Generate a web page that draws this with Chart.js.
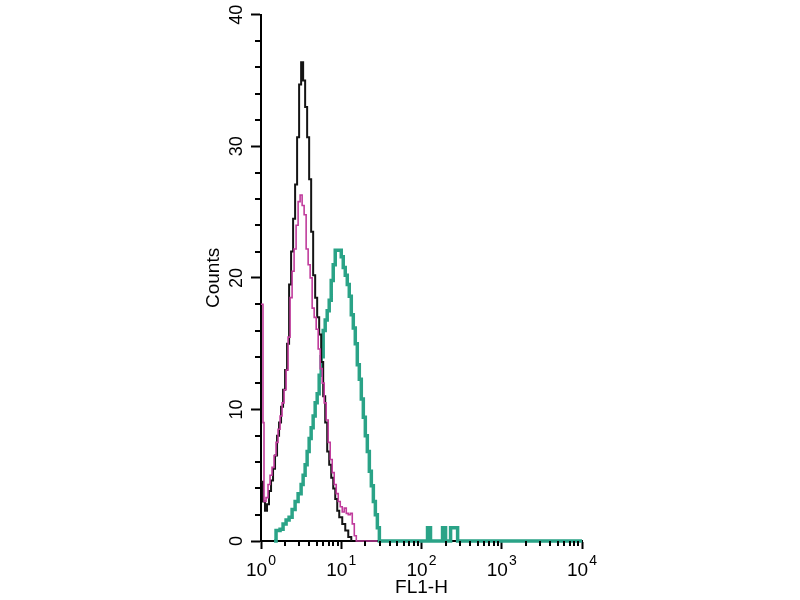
<!DOCTYPE html>
<html>
<head>
<meta charset="utf-8">
<script src="https://cdn.jsdelivr.net/npm/chart.js@4/dist/chart.umd.min.js"></script>
<style>
  html, body { margin: 0; padding: 0; background: #ffffff; }
  #wrap { width: 800px; height: 600px; position: relative; }
</style>
</head>
<body>
<div id="wrap"><canvas id="c" width="800" height="600"></canvas></div>
<script>
// ---- Data (FL1-H value, counts) ----
const blackFL = [1.000, 1.059, 1.122, 1.189, 1.259, 1.334, 1.413, 1.496, 1.585, 1.679, 1.778, 1.884, 1.995, 2.113, 2.239, 2.371, 2.512, 2.661, 2.818, 2.985, 3.162, 3.350, 3.548, 3.758, 3.981, 4.217, 4.467, 4.732, 5.012, 5.309, 5.623, 5.957, 6.310, 6.683, 7.079, 7.499, 7.943, 8.414, 8.913, 9.441, 10.29, 11.22, 12.23, 13.34];
const blackCounts = [4.5, 3, 2.3, 2.8, 3.8, 4.6, 5.5, 6.5, 8, 9, 10.2, 11.5, 13, 15, 19.5, 22, 24.5, 27.1, 30.7, 34.7, 36.4, 35, 33, 30.7, 27.5, 23.5, 20.2, 18.5, 17, 15.7, 13.6, 11, 9, 6.8, 5.8, 4.8, 4, 3.2, 2.3, 1.8, 1.3, 0.8, 0.3, 0];

const magentaFL = [1.000, 1.059, 1.090, 1.155, 1.223, 1.296, 1.372, 1.454, 1.540, 1.631, 1.728, 1.830, 1.939, 2.054, 2.175, 2.304, 2.441, 2.585, 2.738, 2.901, 3.073, 3.255, 3.447, 3.652, 3.868, 4.097, 4.340, 4.597, 4.870, 5.158, 5.464, 5.788, 6.131, 6.494, 6.879, 7.286, 7.718, 8.175, 8.660, 9.173, 9.716, 10.29, 10.90, 11.55, 12.23, 12.96, 13.72, 14.54, 15.40, 28.18];
const magentaCounts = [18, 9, 3, 3.3, 4.3, 5, 5.6, 6.5, 7.5, 8.5, 9.5, 10.5, 11.5, 13, 15.5, 18.5, 20.5, 22.2, 24, 25.8, 26.3, 25.5, 24.8, 22.2, 21, 20, 17.7, 17, 16.1, 14.6, 13.1, 12, 10.5, 9.2, 7.5, 6.2, 5.2, 4.3, 3.6, 3, 2.6, 2.2, 2.5, 2.1, 2, 2.1, 1.3, 0.4, 0, 0];

const tealFL = [1.454, 1.540, 1.728, 1.884, 2.054, 2.239, 2.441, 2.661, 2.901, 3.162, 3.350, 3.548, 3.758, 3.981, 4.217, 4.467, 4.732, 5.012, 5.309, 5.623, 5.957, 6.310, 6.683, 7.079, 7.499, 7.943, 8.414, 8.913, 9.441, 10.00, 10.59, 11.22, 11.89, 12.59, 13.34, 14.13, 14.96, 15.85, 16.79, 17.78, 18.84, 19.95, 21.13, 22.39, 23.71, 25.12, 26.61, 28.18, 29.85, 118.9, 129.5, 183.0, 199.5, 230.4, 281.8, 10000];
const tealCounts = [0, 0.8, 0.9, 1.3, 1.6, 1.8, 2.4, 3, 3.6, 4.3, 5, 5.8, 6.8, 7.8, 8.6, 9.5, 10.5, 11.2, 12.6, 14, 16, 16.8, 17.5, 18.3, 19.8, 21, 22.1, 22.1, 22.1, 21.6, 20.8, 20.2, 19.5, 18.6, 17.2, 16.2, 15, 13.4, 12.3, 10.8, 9.4, 8, 6.8, 5.3, 4.2, 3, 2, 1, 0, 1, 0, 1, 0, 1, 0, 0];

// ---- Axis ticks and labels ----
const xMajorTicks = [1, 10, 100, 1000, 10000];
const xTickExponents = ['0', '1', '2', '3', '4'];
const xMinorTicks = [2, 3, 4, 5, 6, 7, 8, 9, 20, 30, 40, 50, 60, 70, 80, 90, 200, 300, 400, 500, 600, 700, 800, 900, 2000, 3000, 4000, 5000, 6000, 7000, 8000, 9000];
const yMajorTicks = [0, 10, 20, 30, 40];
const yMinorTicks = [2, 4, 6, 8, 12, 14, 16, 18, 22, 24, 26, 28, 32, 34, 36, 38];
const xTitle = 'FL1-H';
const yTitle = 'Counts';

function zip(xs, ys) { return xs.map((x, i) => ({ x: x, y: ys[i] })); }

const FONT = '"Liberation Sans", Arial, sans-serif';

const extrasPlugin = {
  id: 'extras',
  afterDraw(chart) {
    const ctx = chart.ctx;
    const xs = chart.scales.x, ys = chart.scales.y;
    const base = chart.chartArea.bottom;
    const left = chart.chartArea.left;
    ctx.save();
    ctx.strokeStyle = '#000';
    ctx.lineWidth = 2;
    xMinorTicks.forEach(v => {
      const px = Math.round(xs.getPixelForValue(v));
      ctx.beginPath(); ctx.moveTo(px, base); ctx.lineTo(px, base + 5); ctx.stroke();
    });
    yMinorTicks.forEach(v => {
      const py = Math.round(ys.getPixelForValue(v));
      ctx.beginPath(); ctx.moveTo(left, py); ctx.lineTo(left - 6, py); ctx.stroke();
    });
    ctx.fillStyle = '#000';
    ctx.textBaseline = 'alphabetic';
    ctx.textAlign = 'left';
    xMajorTicks.forEach((v, i) => {
      const px = xs.getPixelForValue(v);
      ctx.font = '19px ' + FONT;
      const w1 = ctx.measureText('10').width;
      ctx.font = '14px ' + FONT;
      const w2 = ctx.measureText(xTickExponents[i]).width;
      const start = px - (w1 + w2 + 1) / 2;
      ctx.font = '19px ' + FONT;
      ctx.fillText('10', start, 576);
      ctx.font = '14px ' + FONT;
      ctx.fillText(xTickExponents[i], start + w1 + 1, 565);
    });
    ctx.restore();
  }
};

new Chart(document.getElementById('c'), {
  type: 'line',
  data: {
    datasets: [
      { label: 'magenta', data: zip(magentaFL, magentaCounts), borderColor: '#c03c9c', borderWidth: 1.6, stepped: 'before', pointRadius: 0, fill: false, clip: 6 },
      { label: 'black', data: zip(blackFL, blackCounts), borderColor: '#141414', borderWidth: 2, stepped: 'before', pointRadius: 0, fill: false, clip: 6 },
      { label: 'teal', data: zip(tealFL, tealCounts), borderColor: '#2aa387', borderWidth: 3.5, stepped: 'before', pointRadius: 0, fill: false, clip: 6 }
    ]
  },
  options: {
    responsive: false,
    animation: false,
    events: [],
    layout: { padding: { left: 190, right: 218, top: 12, bottom: 0 } },
    plugins: { legend: { display: false }, tooltip: { enabled: false } },
    scales: {
      x: {
        type: 'logarithmic',
        min: 1, max: 10000,
        afterBuildTicks: (s) => { s.ticks = xMajorTicks.map(v => ({ value: v })); },
        afterFit: (s) => { s.height = 59; },
        ticks: { display: false, autoSkip: false },
        grid: { drawOnChartArea: false, drawTicks: true, tickLength: 8, tickWidth: 2, tickColor: '#000' },
        border: { display: true, color: '#000', width: 2 },
        title: { display: true, text: xTitle, color: '#000', font: { family: FONT, size: 19 }, padding: { top: 0, bottom: 1 } }
      },
      y: {
        type: 'linear',
        min: 0, max: 40,
        afterBuildTicks: (s) => { s.ticks = yMajorTicks.map(v => ({ value: v })); },
        afterFit: (s) => { s.width = 71; },
        ticks: { color: '#000', font: { family: FONT, size: 18 }, minRotation: 90, maxRotation: 90, crossAlign: 'center', padding: 4, autoSkip: false },
        grid: { drawOnChartArea: false, drawTicks: true, tickLength: 10, tickWidth: 2, tickColor: '#000' },
        border: { display: true, color: '#000', width: 2 },
        title: { display: true, text: yTitle, color: '#000', font: { family: FONT, size: 19 }, padding: { top: 12, bottom: 0 } }
      }
    }
  },
  plugins: [extrasPlugin]
});
</script>
</body>
</html>
